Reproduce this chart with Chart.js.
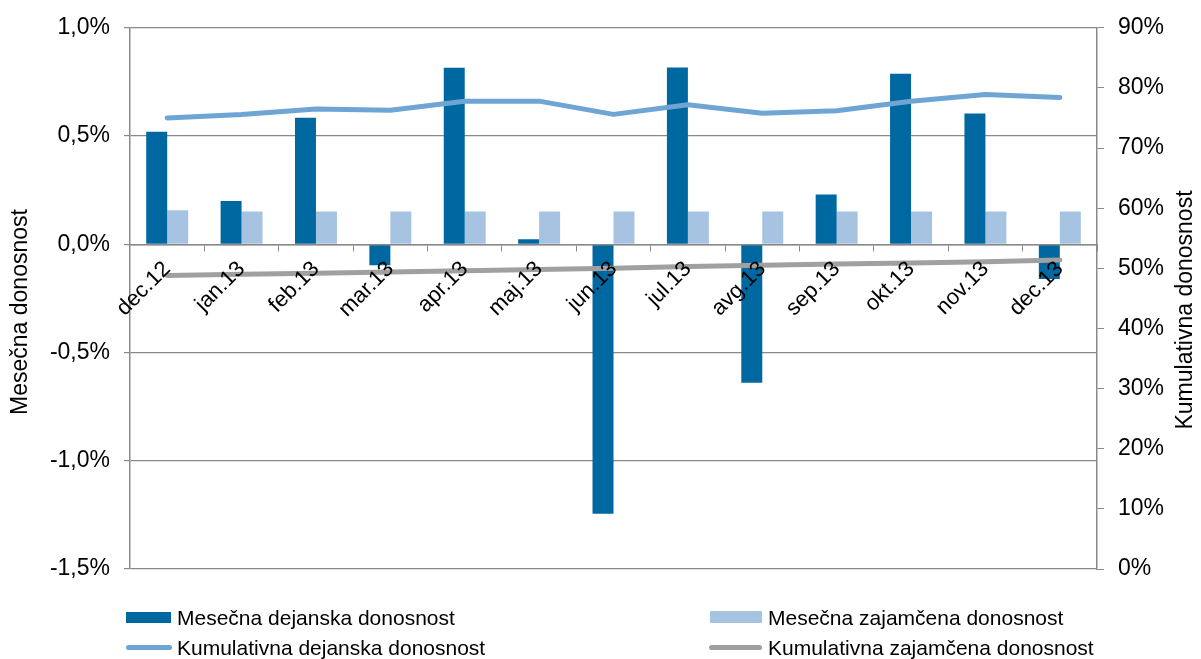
<!DOCTYPE html>
<html>
<head>
<meta charset="utf-8">
<script src="https://cdn.jsdelivr.net/npm/chart.js@4"></script>
<style>
  body { margin: 0; background: #fff; }
  #wrap { position: relative; width: 1201px; height: 659px; font-family: "Liberation Sans", Arial, sans-serif; }
  #graf { position: absolute; left: 0; top: 0; }
  .leg { position: absolute; font-size: 21px; line-height: 24px; color: #000; white-space: nowrap; }
  .sw { position: absolute; }
</style>
</head>
<body>
<div id="wrap">
  <canvas id="graf" width="1201" height="659"></canvas>

  <div class="sw" style="left:126px; top:612px; width:45px; height:11px; background:#0068A0;"></div>
  <div class="leg" style="left:177px; top:606px;">Mesečna dejanska donosnost</div>

  <div class="sw" style="left:710px; top:611px; width:52px; height:12px; background:#A6C4E2;"></div>
  <div class="leg" style="left:768px; top:606px;">Mesečna zajamčena donosnost</div>

  <div class="sw" style="left:126px; top:645px; width:46px; height:5px; border-radius:3px; background:#6FA5D5;"></div>
  <div class="leg" style="left:177px; top:636px;">Kumulativna dejanska donosnost</div>

  <div class="sw" style="left:709px; top:645px; width:53px; height:5px; border-radius:3px; background:#A0A0A0;"></div>
  <div class="leg" style="left:768px; top:636px;">Kumulativna zajamčena donosnost</div>
</div>

<script>
// Meseci
const kategorije = ["dec.12", "jan.13", "feb.13", "mar.13", "apr.13", "maj.13", "jun.13",
  "jul.13", "avg.13", "sep.13", "okt.13", "nov.13", "dec.13"];

// Mesečna donosnost (%), leva os
const mesecnaDejanska = [0.52, 0.20, 0.585, -0.097, 0.816, 0.023, -1.245, 0.817, -0.64, 0.23, 0.788, 0.604, -0.16];
const mesecnaZajamcena = [0.157, 0.152, 0.152, 0.152, 0.152, 0.152, 0.152, 0.152, 0.152, 0.152, 0.152, 0.152, 0.152];

// Kumulativna donosnost (%), desna os
const kumulativnaDejanska = [75.0, 75.6, 76.5, 76.3, 77.8, 77.8, 75.6, 77.2, 75.8, 76.2, 77.8, 78.9, 78.4];
const kumulativnaZajamcena = [48.8, 49.0, 49.2, 49.4, 49.6, 49.8, 50.0, 50.3, 50.5, 50.7, 50.9, 51.1, 51.4];

const FONT = "'Liberation Sans', Arial, sans-serif";
const GRID = "#898989";

// naslova osi (oba berljiva od spodaj navzgor)
const nasloviOsi = {
  id: "nasloviOsi",
  afterDraw(chart) {
    const c = chart.ctx;
    const napisi = [["Mesečna donosnost", 21, 312], ["Kumulativna donosnost", 1186, 310]];
    napisi.forEach(([t, x, y]) => {
      c.save();
      c.fillStyle = "#000";
      c.font = "23px " + FONT;
      c.textAlign = "center";
      c.textBaseline = "middle";
      c.translate(x, y);
      c.rotate(-Math.PI / 2);
      c.fillText(t, 0, 0);
      c.restore();
    });
  }
};

new Chart(document.getElementById("graf"), {
  type: "bar",
  data: {
    labels: kategorije,
    datasets: [
      {
        label: "Kumulativna dejanska donosnost",
        type: "line",
        data: kumulativnaDejanska,
        yAxisID: "y1",
        borderColor: "#6FA5D5",
        borderWidth: 5,
        borderCapStyle: "round",
        borderJoinStyle: "round",
        pointRadius: 0,
        tension: 0,
        fill: false,
        order: 0
      },
      {
        label: "Kumulativna zajamčena donosnost",
        type: "line",
        data: kumulativnaZajamcena,
        yAxisID: "y1",
        borderColor: "#A0A0A0",
        borderWidth: 5,
        borderCapStyle: "round",
        pointRadius: 0,
        tension: 0,
        fill: false,
        order: 0
      },
      {
        label: "Mesečna dejanska donosnost",
        data: mesecnaDejanska,
        yAxisID: "y",
        backgroundColor: "#0068A0",
        barPercentage: 1,
        categoryPercentage: 0.564,
        order: 1
      },
      {
        label: "Mesečna zajamčena donosnost",
        data: mesecnaZajamcena,
        yAxisID: "y",
        backgroundColor: "#A6C4E2",
        barPercentage: 1,
        categoryPercentage: 0.564,
        order: 1
      }
    ]
  },
  options: {
    responsive: false,
    animation: false,
    layout: { padding: { top: 26, bottom: 90, left: 0, right: 0 } },
    plugins: {
      legend: { display: false },
      tooltip: { enabled: false }
    },
    scales: {
      x: {
        position: { y: 0 },
        grid: { display: true, drawOnChartArea: false, offset: true, tickLength: 6, color: GRID, z: 1 },
        border: { color: GRID, width: 1.5, z: 1 },
        ticks: {
          z: 1,
          minRotation: 45,
          maxRotation: 45,
          autoSkip: false,
          padding: 6,
          color: "#000",
          font: { family: FONT, size: 22 }
        }
      },
      y: {
        position: "left",
        min: -1.5,
        max: 1.0,
        afterFit: (s) => { s.width = 130; },
        grid: { color: GRID, tickLength: 6, lineWidth: 1.2 },
        border: { color: GRID, width: 1.5 },
        ticks: {
          stepSize: 0.5,
          padding: 14,
          color: "#000",
          font: { family: FONT, size: 23 },
          callback: (v) => v.toFixed(1).replace(".", ",") + "%"
        }
      },
      y1: {
        position: "right",
        min: 0,
        max: 90,
        afterFit: (s) => { s.width = 104; },
        grid: { drawOnChartArea: false, color: GRID, tickLength: 7 },
        border: { color: GRID, width: 1.5 },
        ticks: {
          stepSize: 10,
          padding: 14,
          color: "#000",
          font: { family: FONT, size: 23 },
          callback: (v) => v + "%"
        }
      }
    }
  },
  plugins: [nasloviOsi]
});
</script>
</body>
</html>
